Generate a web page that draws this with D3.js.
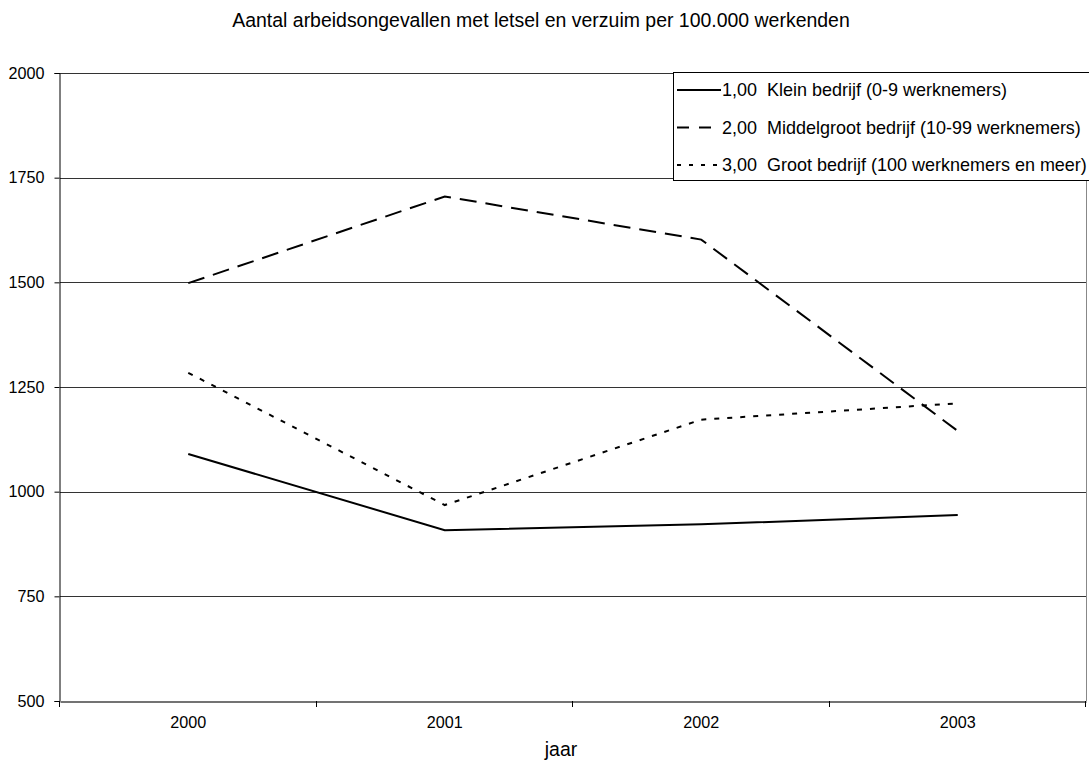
<!DOCTYPE html>
<html><head><meta charset="utf-8">
<script src="https://cdn.jsdelivr.net/npm/d3@7"></script>
<style>body{margin:0;background:#fff}svg{display:block}text{font-family:"Liberation Sans",Arial,sans-serif;fill:#000}</style>
</head><body>
<svg id="c" width="1089" height="763"></svg>
<script>
const years = ["2000","2001","2002","2003"];
const klein = [1090, 908, 922, 944];
const middel = [1498, 1705, 1602, 1145];
const groot = [1284, 968, 1172, 1211];
const seriesNames = ["1,00  Klein bedrijf (0-9 werknemers)","2,00  Middelgroot bedrijf (10-99 werknemers)","3,00  Groot bedrijf (100 werknemers en meer)"];
const yTicks = [500,750,1000,1250,1500,1750,2000];

const FONT = "Liberation Sans, Arial, sans-serif";
const svg = d3.select("#c");
const L=60, R=1086, T=73, B=701;
const x = d3.scaleBand().domain(years).range([L,R]);
const y = d3.scaleLinear().domain([500,2000]).range([B,T]);

// size helper: fit a text to a target width
function fit(sel, target){
  sel.attr("font-size",20).style("font-size","20px");
  const w = sel.node().getComputedTextLength();
  const fs = 20*target/w;
  return fs;
}
const probe = svg.append("text").attr("font-family",FONT).text("2000");
const tickFS = fit(probe,36);
probe.remove();

// gridlines
svg.append("g").selectAll("line").data(yTicks.slice(1)).join("line")
  .attr("x1",L).attr("x2",R).attr("y1",d=>Math.round(y(d))+0.5).attr("y2",d=>Math.round(y(d))+0.5)
  .attr("stroke","#000").attr("stroke-width",1).attr("stroke-opacity",0.8);
svg.append("line").attr("x1",R+0.5).attr("x2",R+0.5).attr("y1",T).attr("y2",B).attr("stroke","#888");

// y axis
const ya = svg.append("g").attr("transform",`translate(${L-0.5},0)`)
  .call(d3.axisLeft(y).tickValues(yTicks).tickSize(5).tickPadding(10).tickFormat(d3.format("d")));
ya.attr("font-size",tickFS).attr("font-family",FONT);
ya.select(".domain").attr("stroke","#000");
ya.selectAll("text").style("font-size",tickFS+"px");

// x axis
const xa = svg.append("g").attr("transform",`translate(0,${B+0.5})`)
  .call(d3.axisBottom(x).tickSize(0).tickPadding(15));
xa.attr("font-size",tickFS).attr("font-family",FONT);
xa.select(".domain").attr("stroke","#444").attr("stroke-width",1.5);
xa.selectAll("text").style("font-size",tickFS+"px");
const bounds = [L].concat(years.map(d=>x(d)+x.bandwidth()));
svg.append("g").selectAll("line").data(bounds).join("line")
  .attr("x1",d=>Math.round(d)-0.5).attr("x2",d=>Math.round(d)-0.5).attr("y1",B).attr("y2",B+6).attr("stroke","#000");

const line = d3.line().x((d,i)=>x(years[i])+x.bandwidth()/2).y(d=>y(d));
const styles = [null,"17,9","5,8"];
[klein,middel,groot].forEach((s,i)=>{
  svg.append("path").datum(s).attr("d",line).attr("fill","none").attr("stroke","#000")
    .attr("stroke-width",2).attr("stroke-dasharray",styles[i]);
});

// title
const title = svg.append("text").attr("x",541).attr("y",27).attr("text-anchor","middle").attr("font-family",FONT)
  .text("Aantal arbeidsongevallen met letsel en verzuim per 100.000 werkenden");
const tFS = fit(title,618);
title.attr("font-size",tFS).style("font-size",tFS+"px");

const jl = svg.append("text").attr("x",561).attr("y",756).attr("text-anchor","middle").attr("font-family",FONT).text("jaar");
jl.attr("font-size",tFS).style("font-size",tFS+"px");

// legend
const lg = svg.append("g");
lg.append("rect").attr("x",673.5).attr("y",72.5).attr("width",420).attr("height",108).attr("fill","#fff").attr("stroke","#000");
const lgTexts = [];
seriesNames.forEach((n,i)=>{
  const yy = 90 + i*37.5;
  lg.append("line").attr("x1",677).attr("x2",721).attr("y1",yy).attr("y2",yy).attr("stroke","#000").attr("stroke-width",2)
    .attr("stroke-dasharray", i==0?null:(i==1?"12,10":"4,8"));
  lgTexts.push(lg.append("text").attr("x",722).attr("y",yy+6).attr("font-family",FONT).style("white-space","pre").attr("xml:space","preserve").text(n));
});
const lFS = fit(lgTexts[0],285);
lgTexts.forEach(t=>t.attr("font-size",lFS).style("font-size",lFS+"px"));
</script>
</body></html>
